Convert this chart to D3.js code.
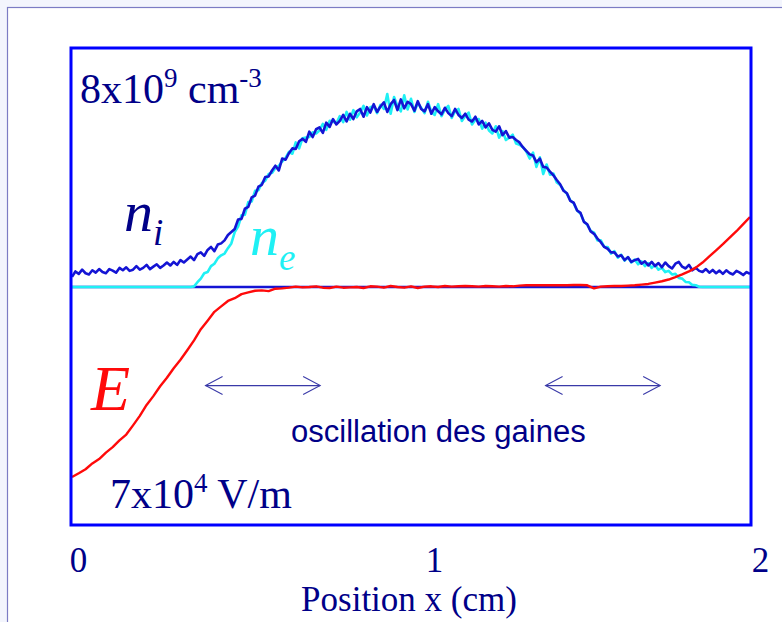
<!DOCTYPE html>
<html>
<head>
<meta charset="utf-8">
<script src="https://cdn.jsdelivr.net/npm/d3@7"></script>
<style>
  html, body { margin: 0; padding: 0; background: #f3f5fd; }
  svg { display: block; }
</style>
</head>
<body>
<script>
// Sampling step of the profiles along x (cm)
const densityStep = 0.01;
const fieldStep = 0.02;

// Ion density n_i (units of 1e9 cm^-3), x = 0 … 2 cm
const ionDensity = [
  0.34,0.52,0.44,0.58,0.46,0.42,0.56,0.48,0.60,0.50,
  0.46,0.60,0.55,0.48,0.64,0.56,0.66,0.54,0.58,0.70,
  0.58,0.64,0.74,0.60,0.68,0.76,0.64,0.72,0.82,0.72,
  0.84,0.74,0.90,0.82,0.92,1.02,0.90,1.10,1.16,1.04,
  1.24,1.34,1.20,1.42,1.46,1.56,1.74,1.84,1.94,2.26,
  2.28,2.62,2.68,3.00,3.06,3.36,3.42,3.68,3.70,3.90,
  4.06,3.90,4.30,4.26,4.48,4.64,4.62,4.88,4.96,4.86,
  5.20,5.02,5.28,5.34,5.16,5.50,5.36,5.62,5.44,5.56,
  5.76,5.54,5.80,5.62,5.88,5.96,5.70,6.02,5.84,6.12,
  5.86,6.04,6.18,5.86,6.12,6.26,5.92,6.28,5.98,6.20,
  6.12,5.90,6.22,5.96,5.88,6.12,5.80,6.02,5.88,5.78,
  6.00,5.82,5.72,5.96,5.76,5.66,5.80,5.60,5.54,5.70,
  5.44,5.56,5.34,5.48,5.26,5.20,5.38,5.08,5.22,5.00,
  5.02,4.92,4.84,4.68,4.56,4.44,4.40,4.18,4.30,4.02,
  4.00,3.86,3.74,3.58,3.44,3.22,3.14,2.88,2.82,2.56,
  2.48,2.18,2.10,1.86,1.78,1.62,1.50,1.34,1.28,1.16,
  1.16,1.02,1.06,0.90,1.00,0.84,0.90,0.94,0.78,0.86,
  0.72,0.84,0.70,0.80,0.66,0.82,0.70,0.62,0.78,0.84,
  0.68,0.62,0.74,0.56,0.64,0.54,0.50,0.60,0.48,0.57,
  0.46,0.55,0.44,0.56,0.47,0.42,0.54,0.48,0.40,0.50,
  0.44
];

// Electron density n_e (units of 1e9 cm^-3), x = 0 … 2 cm
const electronDensity = [
  0,0,0,0,0,0,0,0,0,0,
  0,0,0,0,0,0,0,0,0,0,
  0,0,0,0,0,0,0,0,0,0,
  0,0,0,0,0,0,
  0.02,0.16,0.28,0.46,0.50,0.70,0.78,0.96,1.06,1.12,1.30,1.46,1.84,2.02,
  2.40,2.42,2.84,2.86,3.22,3.24,3.48,3.56,3.78,3.82,
  3.98,4.06,4.20,4.32,4.52,4.46,4.84,4.64,4.98,5.00,
  5.02,5.18,5.14,5.24,5.46,5.26,5.56,5.54,5.48,5.72,
  5.52,5.86,5.60,5.92,5.68,5.84,6.06,5.74,6.02,6.06,
  5.82,6.10,5.96,6.46,5.80,6.36,6.06,5.88,6.42,5.94,
  6.30,5.86,6.16,6.00,5.82,6.20,5.86,5.76,6.12,5.72,
  5.94,6.06,5.66,5.88,5.96,5.56,5.72,5.84,5.44,5.60,
  5.62,5.30,5.50,5.24,5.14,5.38,5.00,5.22,4.92,5.00,
  5.10,4.80,4.76,4.68,4.54,4.30,4.50,4.02,4.34,3.78,
  4.10,3.76,3.80,3.50,3.42,3.24,3.12,2.90,2.80,2.56,
  2.46,2.20,2.08,1.88,1.82,1.56,1.56,1.34,1.34,1.12,
  1.20,0.98,1.08,0.88,1.00,0.82,0.92,0.76,0.86,0.70,
  0.80,0.64,0.74,0.58,0.64,0.50,0.54,0.42,0.44,0.30,
  0.28,0.17,0.16,0.07,0.06,0.01,
  0,0,0,0,0,0,0,0,0,0,0,0,0,0,0
];

// Electric field E (units of 1e4 V/m), x = 0 … 2 cm
const electricField = [
  -5.59,-5.48,-5.36,-5.19,-5.06,-4.87,-4.71,-4.51,-4.34,-4.07,
  -3.79,-3.47,-3.21,-2.92,-2.67,-2.39,-2.14,-1.86,-1.57,-1.24,
  -0.99,-0.73,-0.57,-0.41,-0.33,-0.21,-0.16,-0.11,-0.10,-0.12,
  -0.05,-0.04,-0.02,0.01,-0.01,0.00,0.02,-0.02,-0.03,0.01,
  -0.02,-0.01,0.00,-0.03,0.02,0.01,-0.02,0.03,0.00,-0.02,
  0.02,-0.03,0.01,0.02,0.00,0.03,0.01,0.02,0.03,0.02,
  0.01,0.03,0.02,0.01,0.03,0.02,0.04,0.05,0.05,0.05,
  0.05,0.05,0.05,0.05,0.06,0.06,0.05,-0.04,0.01,0.02,
  0.03,0.03,0.04,0.05,0.07,0.09,0.13,0.17,0.22,0.29,
  0.37,0.46,0.57,0.72,0.90,1.08,1.26,1.45,1.64,1.85,
  2.06
];

// Axis ticks and the sheath-oscillation spans (cm)
const tickValues = [0, 1, 2];
const tickLabels = ["0", "1", "2"];
const sheathSpans = [[0.394, 0.732], [1.397, 1.735]];
const sheathArrowLevel = -2.9; // in field units, where the arrows sit

const W = 782, H = 622;
const box = { left: 71, top: 48, right: 751, bottom: 525 };

const svg = d3.select("body").append("svg")
  .attr("width", W).attr("height", H);

// Slide background and white panel
svg.append("rect").attr("width", W).attr("height", H).attr("fill", "#f3f5fd");
svg.append("rect")
  .attr("x", 7.5).attr("y", 7.5).attr("width", W + 10).attr("height", H + 10)
  .attr("fill", "#ffffff").attr("stroke", "#7c7cc4").attr("stroke-width", 1.2);

// Scales
const x = d3.scaleLinear().domain([0, 2]).range([72, 750]);
const yN = d3.scaleLinear().domain([0, 8]).range([287, box.top]);
const yE = d3.scaleLinear().domain([-7, 0]).range([box.bottom, 287]);
// tick labels sit slightly off the data positions
const xTick = d3.scaleLinear().domain([0, 1, 2]).range([78, 434, 760]);

const navy = "#000088";
const lineBlue = "#1414d4";

// Zero line
svg.append("line")
  .attr("x1", x(0)).attr("x2", x(2))
  .attr("y1", yN(0)).attr("y2", yN(0))
  .attr("stroke", lineBlue).attr("stroke-width", 2.6);

const lineN = (step) => d3.line()
  .x((d, i) => x(i * step))
  .y(d => yN(d));

svg.append("path").datum(electronDensity)
  .attr("d", lineN(densityStep))
  .attr("fill", "none").attr("stroke", "#1ff0f4")
  .attr("stroke-width", 2.6).attr("stroke-linejoin", "round");

svg.append("path").datum(ionDensity)
  .attr("d", lineN(densityStep))
  .attr("fill", "none").attr("stroke", lineBlue)
  .attr("stroke-width", 2.6).attr("stroke-linejoin", "round");

svg.append("path").datum(electricField)
  .attr("d", d3.line().x((d, i) => x(i * fieldStep)).y(d => yE(d)))
  .attr("fill", "none").attr("stroke", "#ff0a0a")
  .attr("stroke-width", 2.4).attr("stroke-linejoin", "round");

// Frame
svg.append("rect")
  .attr("x", box.left).attr("y", box.top)
  .attr("width", box.right - box.left).attr("height", box.bottom - box.top)
  .attr("fill", "none").attr("stroke", "#0000ff").attr("stroke-width", 3);

// Double arrows marking the sheath oscillation
const arrowColor = "#3a3aa8";
sheathSpans.forEach(([a, b]) => {
  const y0 = yE(sheathArrowLevel), xa = x(a), xb = x(b);
  const g = svg.append("g").attr("stroke", arrowColor).attr("fill", "none")
    .attr("stroke-width", 1.1);
  g.append("line").attr("x1", xa).attr("x2", xb).attr("y1", y0).attr("y2", y0);
  g.append("polyline").attr("points", `${xa + 17},${y0 - 9} ${xa},${y0} ${xa + 17},${y0 + 9}`);
  g.append("polyline").attr("points", `${xb - 17},${y0 - 9} ${xb},${y0} ${xb - 17},${y0 + 9}`);
});

const serif = "'Liberation Serif', 'Times New Roman', serif";

// Axis tick labels
const axis = d3.axisBottom(xTick).tickValues(tickValues)
  .tickFormat((d, i) => tickLabels[i]).tickSize(0).tickPadding(0);
const gAxis = svg.append("g").attr("transform", "translate(0,547)").call(axis);
gAxis.select(".domain").remove();
gAxis.selectAll("text")
  .attr("font-family", serif)
  .attr("font-size", 35).attr("fill", navy).attr("dy", "0.72em");

svg.append("text")
  .attr("x", 409).attr("y", 611).attr("text-anchor", "middle")
  .attr("font-family", serif).attr("font-size", 35).attr("fill", navy)
  .text("Position x (cm)");

// Scale annotations
const densityNote = svg.append("text").attr("x", 80).attr("y", 103)
  .attr("font-family", serif).attr("font-size", 42).attr("fill", navy);
densityNote.append("tspan").text("8x10");
densityNote.append("tspan").attr("font-size", 27).attr("dy", -16).text("9");
densityNote.append("tspan").attr("dy", 16).text(" cm");
densityNote.append("tspan").attr("font-size", 27).attr("dy", -16).text("-3");

const fieldNote = svg.append("text").attr("x", 110).attr("y", 508)
  .attr("font-family", serif).attr("font-size", 42).attr("fill", navy);
fieldNote.append("tspan").text("7x10");
fieldNote.append("tspan").attr("font-size", 27).attr("dy", -16).text("4");
fieldNote.append("tspan").attr("dy", 16).text(" V/m");

// Curve names
const niLabel = svg.append("text").attr("x", 124).attr("y", 231)
  .attr("font-family", serif).attr("font-style", "italic")
  .attr("font-size", 58).attr("fill", navy);
niLabel.append("tspan").text("n");
niLabel.append("tspan").attr("font-size", 37).attr("dy", 14).text("i");

const neLabel = svg.append("text").attr("x", 250).attr("y", 255)
  .attr("font-family", serif).attr("font-style", "italic")
  .attr("font-size", 58).attr("fill", "#1ff0f4");
neLabel.append("tspan").text("n");
neLabel.append("tspan").attr("font-size", 37).attr("dy", 15).text("e");

svg.append("text").attr("x", 91).attr("y", 410)
  .attr("font-family", serif).attr("font-style", "italic")
  .attr("font-size", 64).attr("fill", "#ff0a0a").text("E");

svg.append("text").attr("x", 291).attr("y", 442)
  .attr("font-family", "'Liberation Sans', Arial, sans-serif")
  .attr("font-size", 31).attr("fill", navy)
  .text("oscillation des gaines");
</script>
</body>
</html>
